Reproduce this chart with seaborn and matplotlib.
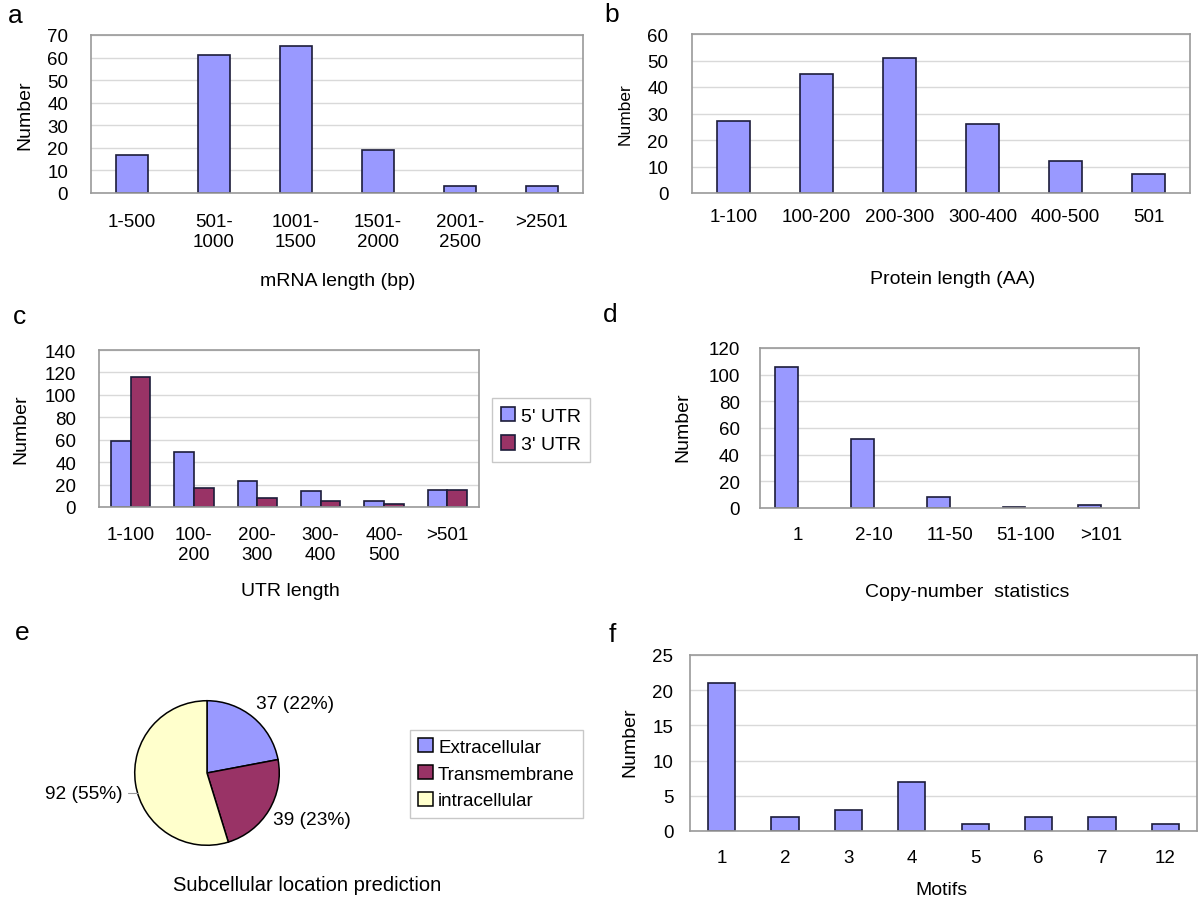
import matplotlib
matplotlib.use("Agg")
import matplotlib.pyplot as plt
import pandas as pd
import seaborn as sns

# data
mrna_bins = ["1-500", "501-\n1000", "1001-\n1500", "1501-\n2000", "2001-\n2500", ">2501"]
mrna_counts = [17, 61, 65, 19, 3, 3]

protein_bins = ["1-100", "100-200", "200-300", "300-400", "400-500", "501"]
protein_counts = [27, 45, 51, 26, 12, 7]

utr_bins = ["1-100", "100-\n200", "200-\n300", "300-\n400", "400-\n500", ">501"]
utr5_counts = [59, 49, 23, 14, 5, 15]
utr3_counts = [116, 17, 8, 5, 3, 15]

copy_bins = ["1", "2-10", "11-50", "51-100", ">101"]
copy_counts = [106, 52, 8, 1, 2]

location_names = ["Extracellular", "Transmembrane", "intracellular"]
location_counts = [37, 39, 92]

motif_bins = ["1", "2", "3", "4", "5", "6", "7", "12"]
motif_counts = [21, 2, 3, 7, 1, 2, 2, 1]

BLUE = "#9999ff"
MAROON = "#993366"
CREAM = "#ffffcc"
EDGE = "#1c1c3a"

sns.set_style("white")
plt.rcParams["font.family"] = ["Liberation Sans", "DejaVu Sans"]
plt.rcParams["text.color"] = "black"
plt.rcParams["axes.labelcolor"] = "black"
plt.rcParams["xtick.color"] = "black"
plt.rcParams["ytick.color"] = "black"

W, H = 1200, 920
fig = plt.figure(figsize=(12, 9.2), dpi=100)


def add_ax(left, top, right, bottom):
    return fig.add_axes([left / W, 1 - bottom / H, (right - left) / W, (bottom - top) / H])


def style_axes(ax, box, ymax, step, n, xpad, ypad, xlab, xlab_pos, ylab_pos, ylab_size=14):
    left, top, right, bottom = box
    ax.set_ylim(0, ymax)
    ax.set_yticks(range(0, ymax + 1, step))
    ax.set_xlim(-0.5, n - 0.5)
    ax.yaxis.grid(True, color="#d9d9d9", lw=1)
    ax.xaxis.grid(False)
    ax.set_axisbelow(True)
    for s in ax.spines.values():
        s.set_visible(True)
        s.set_color("#9a9a9a")
        s.set_linewidth(1.2)
    ax.set_xticks([i + 0.5 for i in range(n - 1)], minor=True)
    ax.tick_params(axis="x", which="major", length=0, pad=xpad, labelsize=13.5)
    ax.tick_params(axis="x", which="minor", length=5, color="#cccccc", width=1)
    ax.tick_params(axis="y", length=0, pad=ypad, labelsize=13.5)
    for t in ax.get_xticklabels():
        t.set_linespacing(1.25)
        t.set_multialignment("center")
    ax.set_xlabel(xlab, fontsize=14)
    ax.set_ylabel("Number", fontsize=ylab_size)
    ax.xaxis.set_label_coords((xlab_pos[0] - left) / (right - left),
                              (bottom - xlab_pos[1]) / (bottom - top))
    ax.xaxis.label.set_va("center")
    ax.yaxis.set_label_coords((ylab_pos[0] - left) / (right - left),
                              (bottom - ylab_pos[1]) / (bottom - top))
    ax.yaxis.label.set_va("center")


def panel_letter(x, y, s):
    fig.text(x / W, 1 - y / H, s, fontsize=19, ha="center", va="center")


bar_kw = dict(edgecolor=EDGE, linewidth=1.2)

# a - mRNA length
box = (91, 36, 583, 194)
ax = add_ax(*box)
sns.barplot(x=mrna_bins, y=mrna_counts, color=BLUE, width=0.4, saturation=1, ax=ax, **bar_kw)
style_axes(ax, box, 70, 10, len(mrna_bins), 14.5, 16.5, "mRNA length (bp)", (338, 282), (25, 115))
panel_letter(15, 16, "a")

# b - protein length
box = (692, 35, 1190, 194)
ax = add_ax(*box)
sns.barplot(x=protein_bins, y=protein_counts, color=BLUE, width=0.4, saturation=1, ax=ax, **bar_kw)
style_axes(ax, box, 60, 10, len(protein_bins), 11, 17, "Protein length (AA)", (953, 279), (625, 114),
           ylab_size=12.5)
panel_letter(612, 15, "b")

# c - UTR length
box = (99, 351, 479, 508)
utr_df = pd.DataFrame({
    "bin": utr_bins * 2,
    "count": utr5_counts + utr3_counts,
    "series": ["5' UTR"] * len(utr_bins) + ["3' UTR"] * len(utr_bins),
})
ax = add_ax(*box)
sns.barplot(data=utr_df, x="bin", y="count", hue="series", palette=[BLUE, MAROON],
            width=0.62, saturation=1, ax=ax, **bar_kw)
style_axes(ax, box, 140, 20, len(utr_bins), 13.5, 16.5, "UTR length", (290, 592), (21, 429))
handles, labels = ax.get_legend_handles_labels()
ax.legend(handles, labels, loc="upper left", bbox_to_anchor=(492 / W, 1 - 399 / H),
          bbox_transform=fig.transFigure, fontsize=14, frameon=True, fancybox=False,
          edgecolor="#bbbbbb", handlelength=0.75, handleheight=0.75, handletextpad=0.3,
          labelspacing=0.55, borderpad=0.45, borderaxespad=0)
panel_letter(20, 317, "c")

# d - copy number (bars sit in the left half of each slot, like an empty 2nd series)
box = (760, 349, 1139, 509)
copy_df = pd.DataFrame({
    "bin": copy_bins * 2,
    "count": copy_counts + [0] * len(copy_bins),
    "series": ["copies"] * len(copy_bins) + ["none"] * len(copy_bins),
})
ax = add_ax(*box)
sns.barplot(data=copy_df, x="bin", y="count", hue="series", palette=[BLUE, BLUE],
            width=0.6, saturation=1, legend=False, ax=ax, **bar_kw)
for p in ax.patches:
    if p.get_height() == 0:
        p.set_visible(False)
style_axes(ax, box, 120, 20, len(copy_bins), 13, 14.5, "Copy-number  statistics", (967, 593), (683, 427))
panel_letter(610, 315, "d")

# e - subcellular location pie
ax = add_ax(133, 701, 281, 847)
total = sum(location_counts)
wedges, _ = ax.pie(location_counts, colors=[BLUE, MAROON, CREAM], startangle=90,
                   counterclock=False, radius=1,
                   wedgeprops=dict(edgecolor="black", linewidth=1.1))
ax.set_xlim(-1.01, 1.01)
ax.set_ylim(-1.01, 1.01)
label_pos = [(1.22, 0.96), (1.45, -0.65), (-1.70, -0.28)]
for v, (lx, ly) in zip(location_counts, label_pos):
    ax.text(lx, ly, f"{v} ({round(100 * v / total)}%)", fontsize=13.8,
            ha="center", va="center", clip_on=False)
ax.plot([-1.09, -0.96], [-0.28, -0.28], color="#999999", lw=0.8, clip_on=False)
ax.legend(wedges, location_names, loc="upper left", bbox_to_anchor=(410 / W, 1 - 731 / H),
          bbox_transform=fig.transFigure, fontsize=13.5, frameon=True, fancybox=False,
          edgecolor="#bbbbbb", handlelength=0.75, handleheight=0.75, handletextpad=0.3,
          labelspacing=0.5, borderpad=0.45, borderaxespad=0)
fig.text(307 / W, 1 - 886 / H, "Subcellular location prediction", fontsize=14.5,
         ha="center", va="center")
panel_letter(22, 633, "e")

# f - motifs
box = (690, 656, 1197, 832)
ax = add_ax(*box)
sns.barplot(x=motif_bins, y=motif_counts, color=BLUE, width=0.43, saturation=1, ax=ax, **bar_kw)
style_axes(ax, box, 25, 5, len(motif_bins), 13, 12, "Motifs", (941, 891), (630, 742))
panel_letter(612, 635, "f")

fig.savefig("out.png", dpi=100, facecolor="white")
